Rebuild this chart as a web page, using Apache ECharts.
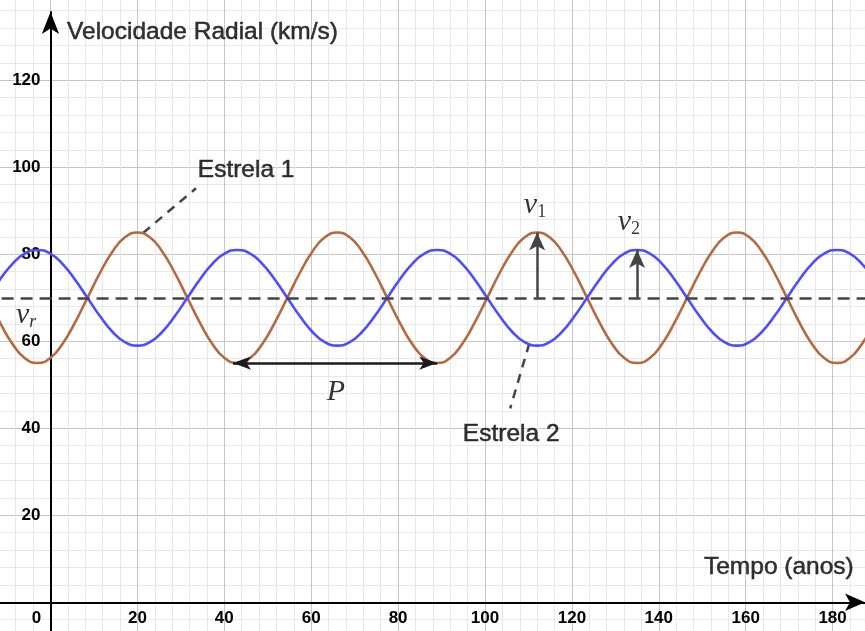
<!DOCTYPE html>
<html>
<head>
<meta charset="utf-8">
<script src="https://cdn.jsdelivr.net/npm/echarts@6/dist/echarts.min.js"></script>
<style>
  html, body { margin: 0; padding: 0; background: #fff; }
  #chart { width: 865px; height: 631px; }
</style>
</head>
<body>
<div id="chart"></div>
<script>
  // pontos (tempo em anos, velocidade em km/s)
  var tempo = [-14.5, -11.625, -8.75, -5.875, -3, -0.125, 2.75, 5.625, 8.5, 11.375, 14.25, 17.125,
    20, 22.875, 25.75, 28.625, 31.5, 34.375, 37.25, 40.125, 43, 45.875, 48.75, 51.625,
    54.5, 57.375, 60.25, 63.125, 66, 68.875, 71.75, 74.625, 77.5, 80.375, 83.25, 86.125,
    89, 91.875, 94.75, 97.625, 100.5, 103.375, 106.25, 109.125, 112, 114.875, 117.75, 120.625,
    123.5, 126.375, 129.25, 132.125, 135, 137.875, 140.75, 143.625, 146.5, 149.375, 152.25, 155.125,
    158, 160.875, 163.75, 166.625, 169.5, 172.375, 175.25, 178.125, 181, 183.875, 186.75, 189.625, 192.5];
  var estrela1 = [70, 64.3, 59.4, 56.1, 55, 56.1, 59.4, 64.3, 70, 75.7, 80.6, 83.9, 85, 83.9, 80.6, 75.7,
    70, 64.3, 59.4, 56.1, 55, 56.1, 59.4, 64.3, 70, 75.7, 80.6, 83.9, 85, 83.9, 80.6, 75.7,
    70, 64.3, 59.4, 56.1, 55, 56.1, 59.4, 64.3, 70, 75.7, 80.6, 83.9, 85, 83.9, 80.6, 75.7,
    70, 64.3, 59.4, 56.1, 55, 56.1, 59.4, 64.3, 70, 75.7, 80.6, 83.9, 85, 83.9, 80.6, 75.7,
    70, 64.3, 59.4, 56.1, 55, 56.1, 59.4, 64.3, 70];
  var estrela2 = [70, 74.2, 77.8, 80.2, 81, 80.2, 77.8, 74.2, 70, 65.8, 62.2, 59.8, 59, 59.8, 62.2, 65.8,
    70, 74.2, 77.8, 80.2, 81, 80.2, 77.8, 74.2, 70, 65.8, 62.2, 59.8, 59, 59.8, 62.2, 65.8,
    70, 74.2, 77.8, 80.2, 81, 80.2, 77.8, 74.2, 70, 65.8, 62.2, 59.8, 59, 59.8, 62.2, 65.8,
    70, 74.2, 77.8, 80.2, 81, 80.2, 77.8, 74.2, 70, 65.8, 62.2, 59.8, 59, 59.8, 62.2, 65.8,
    70, 74.2, 77.8, 80.2, 81, 80.2, 77.8, 74.2, 70];
  var velRadialMedia = 70;
  var setaV1 = [[112, 70], [112, 85]];
  var setaV2 = [[135, 70], [135, 81]];
  var setaP = [[42, 55], [89, 55]];
  var guia1 = [[21.3, 84.9], [33.5, 95.2]];
  var guia2 = [[110.2, 59.5], [105.8, 44.6]];
  var xTicks = [0, 20, 40, 60, 80, 100, 120, 140, 160, 180];
  var yTicks = [20, 40, 60, 80, 100, 120];

  var serie1 = tempo.map(function (t, i) { return [t, estrela1[i]]; });
  var serie2 = tempo.map(function (t, i) { return [t, estrela2[i]]; });

  var sans = '"Liberation Sans", Arial, sans-serif';
  var serif = '"Liberation Serif", "DejaVu Serif", serif';
  var tickFont = { fontFamily: sans, fontSize: 17, fontWeight: 'bold', color: '#000' };
  var textRich = {
    t: { fontFamily: sans, fontSize: 24.5, color: '#000', textBorderColor: '#000', textBorderWidth: 0.5 },
    v: { fontFamily: serif, fontStyle: 'italic', fontSize: 30, color: '#000' },
    s: { fontFamily: serif, fontSize: 18, color: '#000', padding: [15, 0, 0, 0] },
    r: { fontFamily: serif, fontStyle: 'italic', fontSize: 18, color: '#000', padding: [15, 0, 0, 0] }
  };

  function texto(nome, pos, math) {
    return {
      value: pos,
      label: {
        show: true,
        position: math ? 'inside' : 'right',
        distance: 0,
        formatter: math ? nome : '{t|' + nome + '}',
        color: '#000',
        rich: textRich
      }
    };
  }

  var myChart = echarts.init(document.getElementById('chart'));
  var option = {
    animation: false,
    grid: [
      { left: -36.4, right: -54.5, top: -6.7, bottom: -58.3, outerBoundsMode: 'none', containLabel: false },
      { left: 0, right: 0, top: 12, bottom: 0, outerBoundsMode: 'none', containLabel: false }
    ],
    xAxis: [{
      gridIndex: 0,
      type: 'value',
      min: -20,
      max: 200,
      interval: 20,
      position: 'bottom',
      offset: -87,
      axisLine: { show: false, onZero: false },
      axisTick: { show: false },
      axisLabel: Object.assign({
        margin: 8,
        formatter: function (v) {
          if (xTicks.indexOf(v) < 0) return '';
          if (v === 0) return '{z|0}';
          return String(v);
        },
        rich: { z: Object.assign({ padding: [0, 28, 0, 0] }, tickFont) }
      }, tickFont),
      splitLine: { show: true, lineStyle: { color: '#c6c6c6', width: 1 } },
      minorTick: { show: false, splitNumber: 5 },
      minorSplitLine: { show: true, lineStyle: { color: '#e8e8e8', width: 1 } }
    }, {
      gridIndex: 1,
      type: 'value',
      min: -11.62,
      max: 187.46,
      axisLine: { show: true, onZero: true, symbol: ['none', 'arrow'], symbolSize: [13, 20],
        lineStyle: { color: '#000', width: 2 } },
      axisTick: { show: false },
      axisLabel: { show: false },
      splitLine: { show: false }
    }],
    yAxis: [{
      gridIndex: 0,
      type: 'value',
      min: -20,
      max: 140,
      interval: 20,
      position: 'left',
      offset: -86.9,
      axisLine: { show: false, onZero: false },
      axisTick: { show: false },
      axisLabel: Object.assign({
        margin: 10,
        formatter: function (v) { return yTicks.indexOf(v) < 0 ? '' : String(v); }
      }, tickFont),
      splitLine: { show: true, lineStyle: { color: '#c6c6c6', width: 1 } },
      minorTick: { show: false, splitNumber: 5 },
      minorSplitLine: { show: true, lineStyle: { color: '#e8e8e8', width: 1 } }
    }, {
      gridIndex: 1,
      type: 'value',
      min: -6.6,
      max: 135.7,
      axisLine: { show: true, onZero: true, symbol: ['none', 'arrow'], symbolSize: [13, 22],
        lineStyle: { color: '#000', width: 2 } },
      axisTick: { show: false },
      axisLabel: { show: false },
      splitLine: { show: false }
    }],
    series: []
  };

  // linha tracejada v_r e setas
  option.series.push({
    name: 'marcas',
    type: 'line',
    data: [],
    silent: true,
    markLine: {
      silent: true,
      symbol: 'none',
      label: { show: false },
      emphasis: { disabled: true },
      lineStyle: { type: [12, 7], color: '#444', width: 2.5 },
      data: [
        { yAxis: velRadialMedia },
        [{ coord: setaV1[0], symbol: 'none' }, { coord: setaV1[1], symbol: 'arrow', symbolSize: [12, 18],
          lineStyle: { type: 'solid', color: '#444', width: 2.5 } }],
        [{ coord: setaV2[0], symbol: 'none' }, { coord: setaV2[1], symbol: 'arrow', symbolSize: [12, 18],
          lineStyle: { type: 'solid', color: '#444', width: 2.5 } }],
        [{ coord: setaP[0], symbol: 'arrow', symbolSize: [10, 18] }, { coord: setaP[1], symbol: 'arrow', symbolSize: [10, 18],
          lineStyle: { type: 'solid', color: '#1a1a1a', width: 2.5 } }]
      ]
    }
  });

  [guia1, guia2].forEach(function (g) {
    option.series.push({
      type: 'line',
      data: g,
      symbol: 'none',
      silent: true,
      lineStyle: { color: '#444', width: 2.5, type: [9, 7] }
    });
  });

  option.series.push({
    name: 'Estrela 1',
    type: 'line',
    data: serie1,
    smooth: 0.5,
    symbol: 'none',
    silent: true,
    lineStyle: { color: '#b5693f', width: 2.6 }
  });
  option.series.push({
    name: 'Estrela 2',
    type: 'line',
    data: serie2,
    smooth: 0.5,
    symbol: 'none',
    silent: true,
    lineStyle: { color: '#4d4dff', width: 2.6 }
  });

  option.series.push({
    type: 'scatter',
    symbolSize: 0,
    silent: true,
    data: [
      texto('Velocidade Radial (km/s)', [3.8, 131.1]),
      texto('Tempo (anos)', [150.4, 8.1]),
      texto('Estrela 1', [33.9, 99.4]),
      texto('Estrela 2', [94.9, 38.7]),
      texto('{v|v}{s|1}', [111.5, 91.3], true),
      texto('{v|v}{s|2}', [133.1, 87.4], true),
      texto('{v|P}', [65.7, 48.3], true),
      texto('{v|v}{r|r}', [-5.6, 66.0], true)
    ]
  });

  myChart.setOption(option);
</script>
</body>
</html>
